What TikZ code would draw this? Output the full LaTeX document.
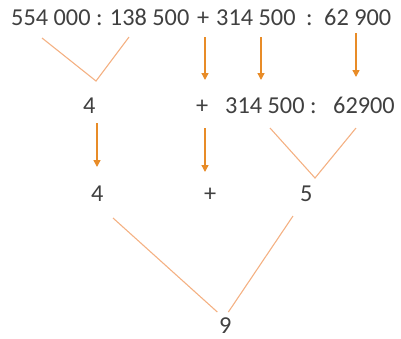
\documentclass[tikz,border=0pt]{standalone}
\usepackage{fontspec}
\setmainfont{Carlito}
\usetikzlibrary{arrows.meta}
\definecolor{numgray}{RGB}{64,64,64}
\definecolor{arroworange}{RGB}{232,140,40}
\definecolor{lineorange}{RGB}{244,177,131}
\tikzset{
  num/.style={anchor=base west, inner sep=0pt, text=numgray, font=\fontsize{24.3}{28}\selectfont},
  arr/.style={arroworange, line width=1.4pt, -{Triangle[width=7pt,length=7pt]}},
  vline/.style={lineorange, line width=1.1pt}
}
\begin{document}
\begin{tikzpicture}[x=1pt, y=-1pt]
            \useasboundingbox (0,0) rectangle (401,338);
            % Top row
            \node[num] (topa) at (11,25) {554 000 : 138 500};
            \node[num] (topplus) at (197,25) {+};
            \node[num] (topb) at (216,25) {314 500};
            \node[num] (topcolon) at (306,25) {:};
            \node[num] (topd) at (324,25) {62 900};
            % Second row
            \node[num] (mid4) at (83,113) {4};
            \node[num] (midplus) at (196,113) {+};
            \node[num] (midb) at (225,113) {314 500 :};
            \node[num] (midd) at (333,113) {62900};
            % Third row
            \node[num] (low4) at (91,201) {4};
            \node[num] (lowplus) at (204,201) {+};
            \node[num] (low5) at (300,201) {5};
            % Result
            \node[num] (res9) at (219,333) {9};
            % Join points
            \coordinate (va) at (42,38);
            \coordinate (vb) at (129,37);
            \coordinate (vtip) at (96,81);
            \coordinate (wa) at (270,128);
            \coordinate (wb) at (356,128);
            \coordinate (wtip) at (315,178);
            \coordinate (ua) at (113,218);
            \coordinate (ub) at (293,216);
            % V shapes
            \draw[vline] (va) -- (vtip) -- (vb);
            \draw[vline] (wa) -- (wtip) -- (wb);
            \draw[vline] (ua) -- ([xshift=-8pt,yshift=5pt]res9.north);
            \draw[vline] (ub) -- ([xshift=3pt,yshift=5pt]res9.north);
            % Arrows down
            \draw[arr] (205,37) -- (205,80);
            \draw[arr] (261,37) -- (261,80);
            \draw[arr] (356,33) -- (356,77);
            \draw[arr] (97,123) -- (97,167);
            \draw[arr] (205,128) -- (205,172);
\end{tikzpicture}
\end{document}
